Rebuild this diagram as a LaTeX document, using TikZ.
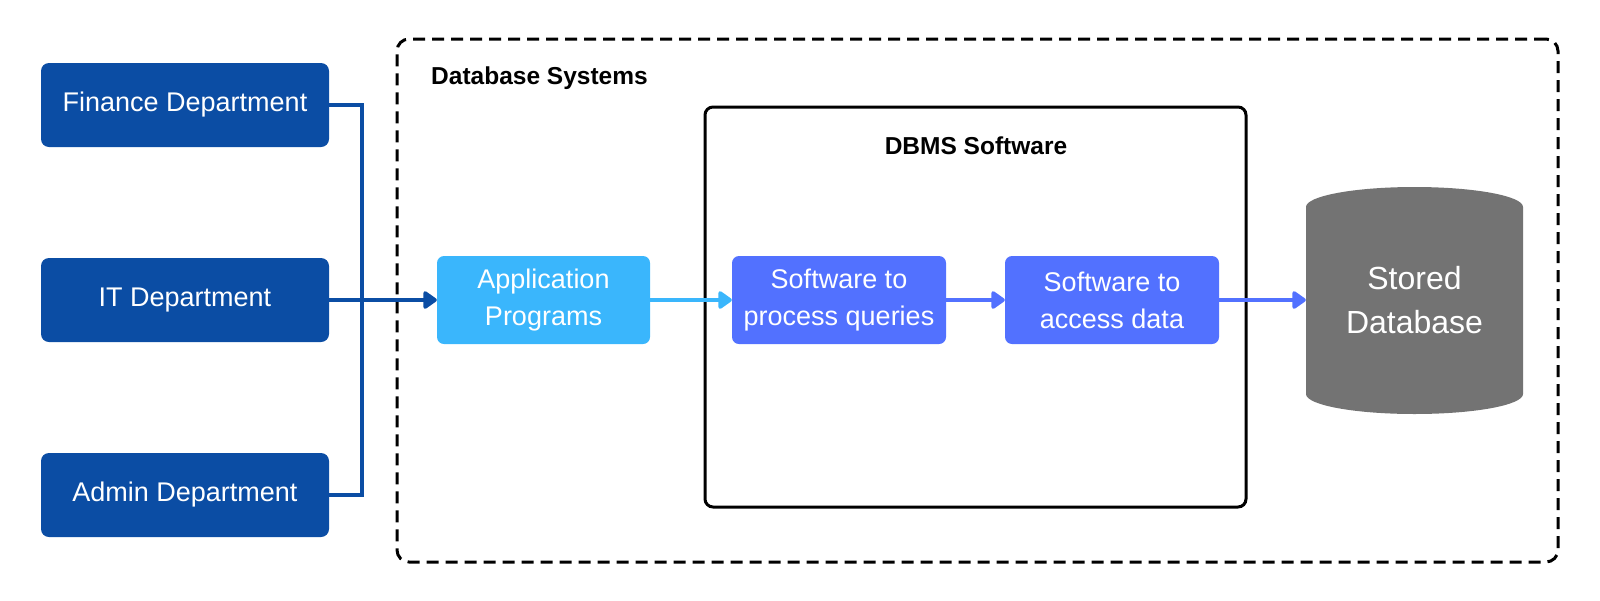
\documentclass[tikz,border=0pt]{standalone}
\usepackage{fontspec}
\setmainfont{Liberation Sans}
\usetikzlibrary{arrows.meta}
\definecolor{deptblue}{RGB}{11,77,164}
\definecolor{appblue}{RGB}{58,182,252}
\definecolor{swblue}{RGB}{82,113,255}
\definecolor{dbgray}{RGB}{115,115,115}
\tikzset{
  dept/.style={rectangle, rounded corners=8pt, fill=deptblue, text=white, minimum width=288pt, minimum height=84pt, inner sep=0pt, font=\fontsize{27}{33}\selectfont},
  proc/.style={rectangle, rounded corners=7pt, text=white, minimum width=213pt, minimum height=88pt, inner sep=0pt, align=center, font=\fontsize{27}{37}\selectfont},
  conn/.style={line width=4pt, -{Triangle[length=15pt,width=20pt,round]}},
  title/.style={font=\fontsize{24.5}{29}\selectfont\bfseries, inner sep=0pt}
}
\begin{document}
\begin{tikzpicture}[x=1pt,y=-1pt]
\useasboundingbox (0,0) rectangle (1600,600);
% outer dashed container
\node[draw, line width=3pt, dash pattern=on 12pt off 7pt, rounded corners=12pt, minimum width=1161pt, minimum height=523pt, inner sep=0pt] (sys) at (977.5,300.5) {};
\node[title, anchor=west] (systitle) at (431,78) {Database Systems};
% DBMS container
\node[draw, line width=3pt, rounded corners=8pt, minimum width=541pt, minimum height=400pt, inner sep=0pt] (dbms) at (975.5,307) {};
\node[title] (dbmstitle) at (976,146) {DBMS Software};
% departments
\node[dept] (fin) at (185,105) {Finance Department};
\node[dept] (it) at (185,300) {IT Department};
\node[dept] (adm) at (185,495) {Admin Department};
% process boxes
\node[proc, fill=appblue] (app) at (543.5,300) {Application\\Programs};
\node[proc, fill=swblue, minimum width=214pt] (query) at (839,300) {Software to\\process queries};
\node[proc, fill=swblue, minimum width=214pt] (access) at (1112,300) {Software to\\access data};
% database cylinder
\fill[dbgray] (1306,207) arc[start angle=180, end angle=0, x radius=108.5pt, y radius=20pt]
  -- (1523,394) arc[start angle=0, end angle=-180, x radius=108.5pt, y radius=20pt] -- cycle;
\node[rectangle, minimum width=217pt, minimum height=227pt, inner sep=0pt, text=white, align=center, font=\fontsize{32}{44}\selectfont] (db) at (1414.5,300) {Stored\\Database};
% connectors
\coordinate (bx) at (362,300);
\draw[deptblue, line width=4pt] (fin.east) -- (fin.east -| bx) -- (adm.east -| bx) -- (adm.east);
\draw[conn, deptblue] (it.east) -- (app.west);
\draw[conn, appblue] (app.east) -- (query.west);
\draw[conn, swblue] (query.east) -- (access.west);
\draw[conn, swblue] (access.east) -- (db.west);
\end{tikzpicture}
\end{document}
